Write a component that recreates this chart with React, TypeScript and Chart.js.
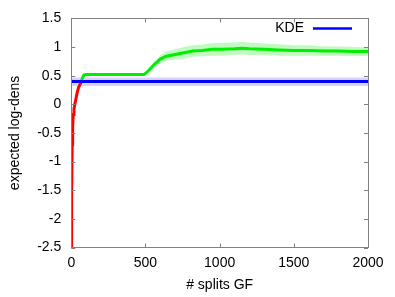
import React, { useEffect, useRef } from "react";
import { Chart, registerables } from "chart.js";

Chart.register(...registerables);

// ---- data ----
const redX = [0, 1, 3, 6, 9, 13, 18, 23, 30, 36, 43, 50, 57, 65];
const redY = [-2.5, -2.2, -1.67, -0.7, -0.41, -0.18, -0.08, -0.01, 0.08, 0.16, 0.24, 0.3, 0.34, 0.38];

const greenX = [65, 75, 85, 100, 300, 490, 510, 540, 560, 580, 600, 640, 700, 760, 820, 880, 950, 1020, 1100, 1150, 1200, 1300, 1400, 1500, 1600, 1700, 1800, 1900, 2000];
const greenY = [0.38, 0.46, 0.51, 0.52, 0.52, 0.52, 0.56, 0.64, 0.7, 0.74, 0.79, 0.84, 0.87, 0.9, 0.93, 0.94, 0.96, 0.96, 0.97, 0.98, 0.97, 0.96, 0.95, 0.94, 0.94, 0.93, 0.93, 0.92, 0.92];
const greenLo = [0.37, 0.45, 0.5, 0.51, 0.51, 0.51, 0.54, 0.6, 0.65, 0.68, 0.72, 0.76, 0.78, 0.8, 0.83, 0.84, 0.85, 0.85, 0.86, 0.87, 0.86, 0.86, 0.85, 0.85, 0.85, 0.85, 0.85, 0.84, 0.85];
const greenHi = [0.39, 0.47, 0.52, 0.53, 0.53, 0.53, 0.58, 0.68, 0.75, 0.8, 0.86, 0.92, 0.96, 1.0, 1.03, 1.04, 1.07, 1.07, 1.08, 1.09, 1.08, 1.06, 1.05, 1.03, 1.03, 1.01, 1.01, 1.0, 0.99];

const kdeX = [0, 2000];
const kdeY = [0.4, 0.4];
const kdeLo = [0.32, 0.32];
const kdeHi = [0.47, 0.47];

const xTicks = [0, 500, 1000, 1500, 2000];
const yTicks = [-2.5, -2, -1.5, -1, -0.5, 0, 0.5, 1, 1.5];
const legendLabel = "KDE";
const xTitle = "# splits GF";
const yTitle = "expected log-dens";

const FONT = "'Liberation Sans', Arial, sans-serif";
const FRAME = "#808080";

const pts = (xs: number[], ys: number[]) => xs.map((x, i) => ({ x, y: ys[i] }));

const framePlugin = {
  id: "frameTicks",
  afterDatasetsDraw(chart: any) {
    const { ctx, chartArea, scales } = chart;
    const { left, right, top, bottom } = chartArea;
    ctx.save();
    ctx.strokeStyle = FRAME;
    ctx.lineWidth = 1;
    ctx.beginPath();
    const tl = 4;
    xTicks.forEach((v) => {
      const px = Math.round(scales.x.getPixelForValue(v)) + 0.5;
      ctx.moveTo(px, bottom);
      ctx.lineTo(px, bottom - tl);
      ctx.moveTo(px, top);
      ctx.lineTo(px, top + tl);
    });
    yTicks.forEach((v) => {
      const py = Math.round(scales.y.getPixelForValue(v)) + 0.5;
      ctx.moveTo(left, py);
      ctx.lineTo(left + tl, py);
      ctx.moveTo(right, py);
      ctx.lineTo(right - tl, py);
    });
    ctx.stroke();
    ctx.strokeRect(Math.round(left) + 0.5, Math.round(top) + 0.5, Math.round(right - left), Math.round(bottom - top));
    // legend
    const lx = right - 55;
    const ly = top + 10;
    ctx.fillStyle = "#000";
    ctx.font = `14px ${FONT}`;
    ctx.textAlign = "right";
    ctx.textBaseline = "middle";
    ctx.fillText(legendLabel, lx - 9, ly);
    ctx.strokeStyle = "#0000ff";
    ctx.lineWidth = 2.5;
    ctx.beginPath();
    ctx.moveTo(lx, ly);
    ctx.lineTo(lx + 39, ly);
    ctx.stroke();
    ctx.restore();
  },
};

export default function App() {
  const ref = useRef<HTMLCanvasElement | null>(null);
  useEffect(() => {
    document.body.style.margin = "0";
    const chart = new Chart(ref.current as HTMLCanvasElement, {
      type: "line",
      data: {
        datasets: [
          {
            label: "kdeHi",
            data: pts(kdeX, kdeHi),
            borderWidth: 0,
            pointRadius: 0,
            backgroundColor: "rgba(0,0,255,0.17)",
            fill: "+1",
            order: 10,
          },
          {
            label: "kdeLo",
            data: pts(kdeX, kdeLo),
            borderWidth: 0,
            pointRadius: 0,
            fill: false,
            order: 10,
          },
          {
            label: "gfHi",
            data: pts(greenX, greenHi),
            borderWidth: 0,
            pointRadius: 0,
            backgroundColor: "rgba(0,235,0,0.25)",
            fill: "+1",
            order: 11,
          },
          {
            label: "gfLo",
            data: pts(greenX, greenLo),
            borderWidth: 0,
            pointRadius: 0,
            fill: false,
            order: 11,
          },
          {
            label: "GF",
            data: pts(greenX, greenY),
            borderColor: "#00ee00",
            borderWidth: 3,
            pointRadius: 0,
            fill: false,
            order: 3,
          },
          {
            label: "red",
            data: pts(redX, redY),
            borderColor: "#ff0000",
            borderWidth: 3,
            pointRadius: 0,
            fill: false,
            order: 2,
          },
          {
            label: legendLabel,
            data: pts(kdeX, kdeY),
            borderColor: "#0000ff",
            borderWidth: 3,
            pointRadius: 0,
            fill: false,
            order: 1,
          },
        ],
      },
      options: {
        animation: false,
        responsive: true,
        maintainAspectRatio: false,
        layout: { padding: { top: 15, right: 27, left: 0, bottom: 0 } },
        plugins: { legend: { display: false }, tooltip: { enabled: false } },
        elements: { line: { tension: 0 } },
        scales: {
          x: {
            type: "linear",
            min: 0,
            max: 2000,
            afterFit: (s: any) => {
              s.height = 49.5;
            },
            afterBuildTicks: (s: any) => {
              s.ticks = xTicks.map((v) => ({ value: v }));
            },
            border: { display: false },
            grid: { display: false, drawTicks: false },
            ticks: {
              padding: 7,
              color: "#000",
              font: { family: FONT, size: 14 },
              callback: (v: any) => String(v),
              maxRotation: 0,
            },
            title: {
              display: true,
              text: xTitle,
              color: "#000",
              font: { family: FONT, size: 14 },
              padding: { top: 0, bottom: 3.6 },
            },
          },
          y: {
            type: "linear",
            min: -2.5,
            max: 1.5,
            afterFit: (s: any) => {
              s.width = 71.3;
            },
            afterBuildTicks: (s: any) => {
              s.ticks = yTicks.map((v) => ({ value: v }));
            },
            border: { display: false },
            grid: { display: false, drawTicks: false },
            ticks: {
              padding: 10,
              color: "#000",
              font: { family: FONT, size: 14 },
              callback: (v: any) => String(v),
            },
            title: {
              display: true,
              text: yTitle,
              color: "#000",
              font: { family: FONT, size: 14 },
              padding: { top: 7, bottom: 0 },
            },
          },
        },
      },
      plugins: [framePlugin],
    });
    return () => chart.destroy();
  }, []);
  return (
    <div style={{ width: 395, height: 297, position: "relative", background: "#fff" }}>
      <canvas ref={ref} />
    </div>
  );
}
